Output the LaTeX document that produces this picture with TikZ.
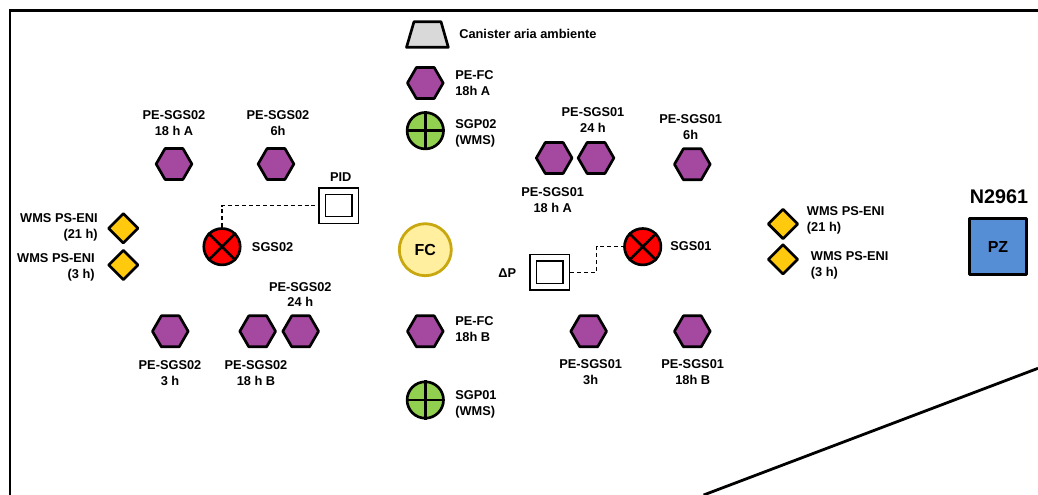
\documentclass[tikz,border=0pt]{standalone}
\usepackage{fontspec}
\setmainfont{Liberation Sans}
\usetikzlibrary{shapes.geometric}
\definecolor{hexfill}{HTML}{A5489F}
\definecolor{diafill}{HTML}{FFC90E}
\definecolor{grnfill}{HTML}{92D050}
\definecolor{redfill}{HTML}{FF0000}
\definecolor{fcfill}{HTML}{FFEF9F}
\definecolor{fcline}{HTML}{C9A80F}
\definecolor{pzfill}{HTML}{558ED5}
\definecolor{canfill}{HTML}{D9D9D9}
\tikzset{
 x=0.75pt,y=-0.75pt,
 lab/.style={font=\fontsize{9.6pt}{11.9pt}\bfseries\selectfont,inner sep=0pt,align=center},
 labl/.style={lab,align=left,anchor=west},
 labr/.style={lab,align=right,anchor=east},
 hexn/.style={shape=regular polygon,regular polygon sides=6,draw=black,line width=2pt,fill=hexfill,inner sep=0pt,minimum size=26.8pt,line join=round},
 dian/.style={shape=diamond,draw=black,line width=2pt,fill=diafill,inner sep=0pt,minimum width=22.8pt,minimum height=22.8pt,line join=round},
 pcirc/.style={shape=circle,draw=black,line width=2pt,fill=grnfill,inner sep=0pt,minimum size=27.3pt},
 outerbox/.style={shape=rectangle,draw=black,line width=1.2pt,fill=white,inner sep=0pt,minimum width=29.5pt,minimum height=26.5pt},
 innerbox/.style={shape=rectangle,draw=black,line width=1.2pt,fill=white,inner sep=0pt,minimum width=20pt,minimum height=16.5pt},
 dashlink/.style={draw=black,line width=0.85pt,dash pattern=on 3pt off 2.2pt},
 thickline/.style={draw=black,line width=2.1pt},
}
\newcommand{\crossbars}[1]{\draw[black,line width=2pt] (#1.north)--(#1.south) (#1.east)--(#1.west);}
\newcommand{\xbars}[1]{\draw[black,line width=2pt] (#1.45)--(#1.225) (#1.135)--(#1.315);}
\begin{document}
\begin{tikzpicture}
\useasboundingbox (0,0) rectangle (1038,495);
\coordinate (fa) at (10,495);
\coordinate (fb) at (10,10.7);
\coordinate (fc) at (1038,10.7);
\coordinate (da) at (703.6,495);
\coordinate (db) at (1038,368.3);
\draw[thickline,line join=miter] (fa)--(fb)--(fc);
\draw[thickline] (da)--(db);
% hexagons
\node[hexn] (h1) at (174,164) {};
\node[hexn] (h2) at (276,164) {};
\node[hexn] (h3) at (170.3,331.3) {};
\node[hexn] (h4) at (257.7,331.3) {};
\node[hexn] (h5) at (300.7,331.3) {};
\node[hexn] (h6) at (425.3,83) {};
\node[hexn] (h7) at (425.3,331.3) {};
\node[hexn] (h8) at (554.2,158) {};
\node[hexn] (h9) at (596,158) {};
\node[hexn] (h10) at (692.3,164.3) {};
\node[hexn] (h11) at (588.7,331.3) {};
\node[hexn] (h12) at (692.3,331.3) {};
% canister
\coordinate (ca) at (406.5,47.3);
\coordinate (cb) at (414,21.7);
\coordinate (cc) at (441,21.7);
\coordinate (cd) at (448.3,47.3);
\draw[black,line width=2pt,fill=canfill,line join=round] (ca)--(cb)--(cc)--(cd)--cycle;
% green
\node[pcirc] (g2) at (425.3,130.7) {};
\node[pcirc] (g1) at (425.3,400) {};
\crossbars{g2}\crossbars{g1}
% red
\node[pcirc,fill=redfill] (r2) at (222,246.7) {};
\node[pcirc,fill=redfill] (r1) at (642.7,246.7) {};
\xbars{r2}\xbars{r1}
% FC
\node[shape=circle,draw=fcline,line width=2.1pt,fill=fcfill,inner sep=0pt,minimum size=39pt,font=\fontsize{12pt}{14pt}\bfseries\selectfont] (fcn) at (425.3,249.7) {FC};
% boxes
\node[outerbox] (pid) at (338.7,205.7) {};
\node[innerbox] (pidi) at (338.7,205.7) {};
\node[outerbox] (dp) at (549.7,272.3) {};
\node[innerbox] (dpi) at (549.7,272.3) {};
\draw[dashlink] (r2.north) |- (pid.west);
\coordinate (bend) at (596.7,259);
\draw[dashlink] (dp.east) -| (bend) |- (r1.west);
% diamonds
\node[dian] (d1) at (123.3,228.3) {};
\node[dian] (d2) at (123.3,265) {};
\node[dian] (d3) at (783,224) {};
\node[dian] (d4) at (783,259.3) {};
% PZ
\node[shape=rectangle,draw=black,line width=2pt,fill=pzfill,inner sep=0pt,minimum width=43pt,minimum height=42pt,line join=round,font=\fontsize{12pt}{14pt}\bfseries\selectfont] (pz) at (998,246.7) {PZ};
% labels
\node[lab] (l1) at (174,123) {PE-SGS02\\18 h A};
\node[lab] (l2) at (278,123) {PE-SGS02\\6h};
\node[lab] (l3) at (340.7,176.7) {PID};
\node[labr] (l4) at (98,227.5) {WMS PS-ENI\\(21 h)};
\node[labr] (l5) at (95,267) {WMS PS-ENI\\(3 h)};
\node[labl] (l6) at (251.7,247) {SGS02};
\node[labl] (l7) at (459,33.7) {Canister aria ambiente};
\node[labl] (l8) at (455,83) {PE-FC\\18h A};
\node[labl] (l9) at (455,133) {SGP02\\(WMS)};
\node[lab] (l10) at (593,120.3) {PE-SGS01\\24 h};
\node[lab] (l11) at (690.7,127) {PE-SGS01\\6h};
\node[lab] (l12) at (552.7,200.3) {PE-SGS01\\18 h A};
\node[labl] (l13) at (670,245.6) {SGS01};
\node[lab] (l14) at (507.3,273) {ΔP};
\node[labl] (l15) at (806.7,220) {WMS PS-ENI\\(21 h)};
\node[labl] (l16) at (810.7,265.3) {WMS PS-ENI\\(3 h)};
\node[font=\fontsize{14.8pt}{17pt}\bfseries\selectfont,inner sep=0pt] (l17) at (999,197) {N2961};
\node[labl] (l18) at (455,329.3) {PE-FC\\18h B};
\node[labl] (l19) at (455,404.3) {SGP01\\(WMS)};
\node[lab] (l20) at (590.7,371.7) {PE-SGS01\\3h};
\node[lab] (l21) at (692.7,371.7) {PE-SGS01\\18h B};
\node[lab] (l22) at (300.3,294.5) {PE-SGS02\\24 h};
\node[lab] (l23) at (170,373.5) {PE-SGS02\\3 h};
\node[lab] (l24) at (256,373) {PE-SGS02\\18 h B};
\end{tikzpicture}
\end{document}
